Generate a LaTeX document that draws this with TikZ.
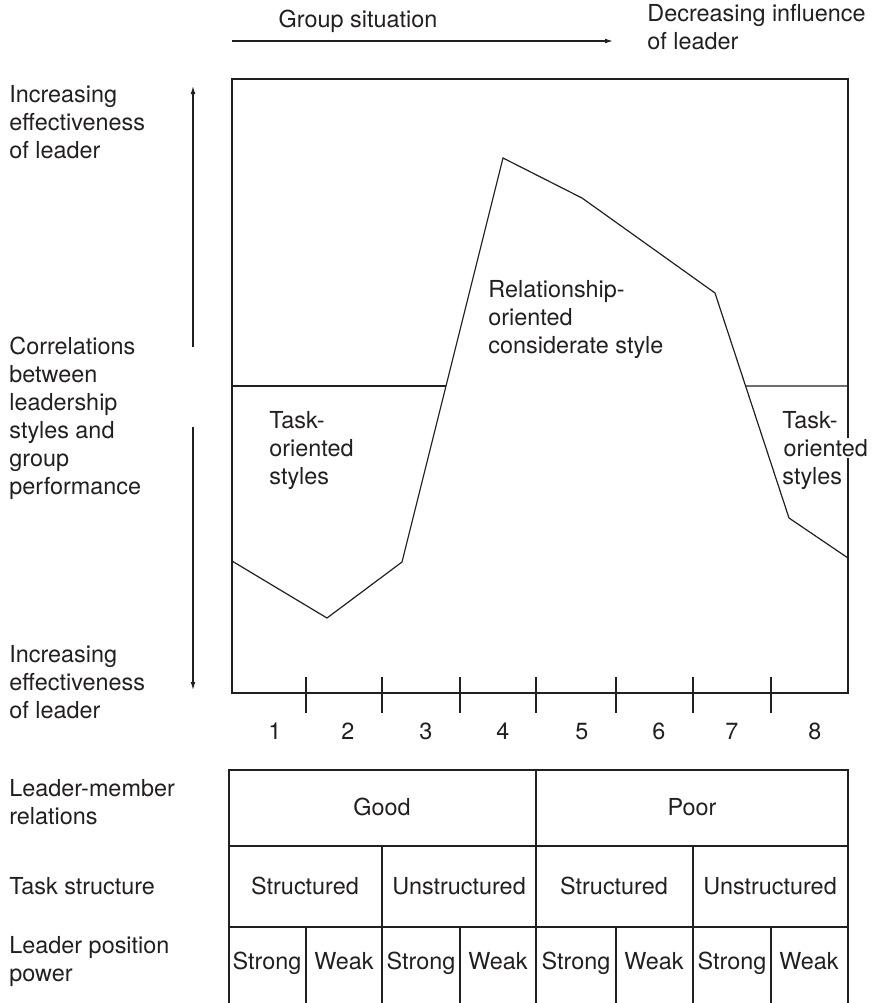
\documentclass[tikz,border=0pt]{standalone}
\usepackage{fontspec}
\setmainfont{TeX Gyre Heros}
\usetikzlibrary{arrows.meta}
\definecolor{ink}{RGB}{35,31,32}
\setlength{\fboxsep}{0.6pt}
\tikzset{
 txt/.style
  = {inner sep=0pt, align=left, anchor=base west, text=ink,
     font=\fontsize{11.7}{14}\selectfont},
 cell/.style
  = {inner sep=0pt, anchor=base, text=ink, font=\fontsize{11.7}{14}\selectfont},
 ln/.style
  = {draw=ink, line width=0.6pt},
 ax/.style
  = {draw=ink, line width=0.6pt, -{Latex[length=4pt,width=2.4pt]}},
}

\begin{document}
\begin{tikzpicture}[x=0.5pt,y=-0.5pt]
  \useasboundingbox (0,0) rectangle (875,1003);

  % top
  \node [cell] (situation) at (358,27) {Group situation};
  \node [txt] (influence) at (647,49) {Decreasing influence\\of leader};
  \coordinate (s0) at (232,41);
  \coordinate (s1) at (613,41);
  \path [ax] (s0) -- (s1);

  % left side
  \node [txt] (effup) at (9,158) {Increasing\\effectiveness\\of leader};
  \node [txt] (corr) at (9,494) {Correlations\\between\\leadership\\styles and\\group\\performance};
  \node [txt] (effdown) at (9,718) {Increasing\\effectiveness\\of leader};
  \coordinate (u0) at (193,347);
  \coordinate (u1) at (193,86);
  \coordinate (d0) at (193,427);
  \coordinate (d1) at (193,690);
  \path [ax] (u0) -- (u1);
  \path [ax] (d0) -- (d1);

  % chart
  \draw [ln] (232,79) rectangle (848,693);
  \foreach \x in {306,382,460,536,616,693,771}
    \draw [ln] (\x,677) -- (\x,713);
  \foreach \x [count=\i] in {275,348,426,503,582,659,732,815}
    \node [cell] (num\i) at (\x,739) {\i};

  \foreach \x/\y [count=\i] in {232/561,327/618,402/562,503/158,582/198,715/293,789/518,848/558}
    \coordinate (p\i) at (\x,\y);
  \draw [ln] (p1) \foreach \i in {2,...,8}{ -- (p\i)};
  \coordinate (ml) at (232,386);
  \coordinate (mr) at (848,386);
  \draw [ln] (ml) -- (intersection of p3--p4 and ml--mr);
  \draw [ln] (intersection of p6--p7 and ml--mr) -- (mr);

  \node [txt] (taskl) at (269,484) {Task-\\oriented\\styles};
  \node [txt] (relation) at (488,353) {Relationship-\\oriented\\considerate style};
  \node [txt] (taskr) at (782,484) {Task-\\\colorbox{white}{oriented}\\styles};

  % table
  \node [txt] (lmr) at (9,824) {Leader-member\\relations};
  \node [txt] (ts) at (9,894) {Task structure};
  \node [txt] (lpp) at (9,981) {Leader position\\power};

  \draw [ln] (229,1003) -- (229,770) -- (848,770) -- (848,1003);
  \draw [ln] (229,846) -- (848,846);
  \draw [ln] (229,927) -- (848,927);
  \draw [ln] (536,770) -- (536,1003);
  \foreach \x in {382,693}
    \draw [ln] (\x,846) -- (\x,1003);
  \foreach \x in {306,460,616,771}
    \draw [ln] (\x,927) -- (\x,1003);

  \node [cell] (good) at (382,815) {Good};
  \node [cell] (poor) at (692,815) {Poor};
  \foreach \x/\t [count=\i] in {305/Structured,459/Unstructured,614/Structured,770/Unstructured}
    \node [cell] (ts\i) at (\x,894) {\t};
  \foreach \x/\t [count=\i] in {267/Strong,344/Weak,421/Strong,498/Weak,576/Strong,654/Weak,732/Strong,809/Weak}
    \node [cell] (pp\i) at (\x,969) {\t};
\end{tikzpicture}
\end{document}
